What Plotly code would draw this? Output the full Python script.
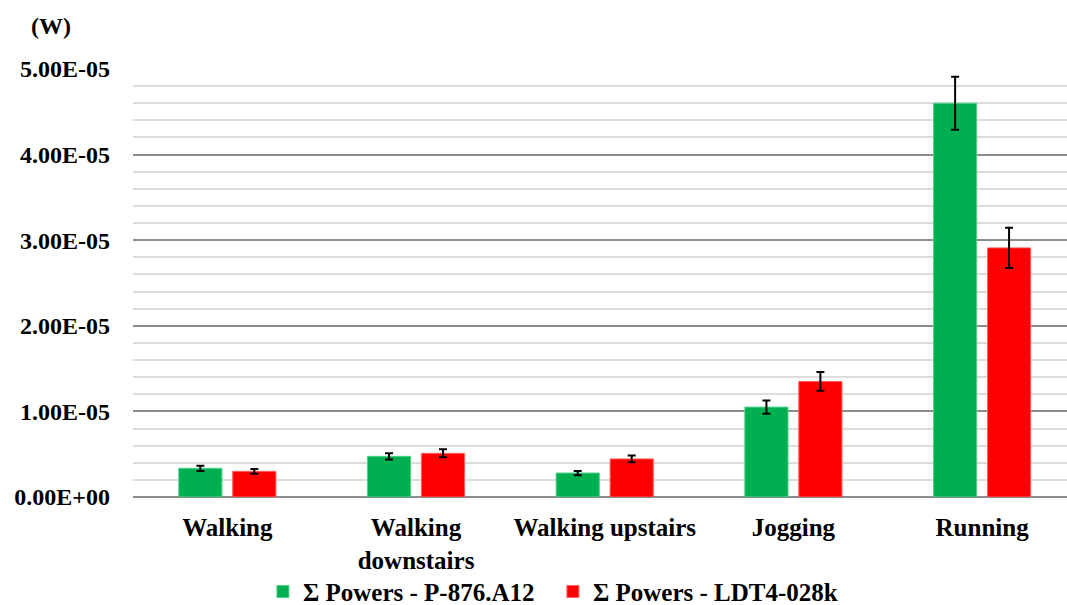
import plotly.graph_objects as go

# Activities on the x axis
activities = ["Walking", "Walking<br>downstairs", "Walking upstairs", "Jogging", "Running"]

# Summed power (W) for each transducer, with error-bar half widths
power_p876 = [3.35e-06, 4.75e-06, 2.8e-06, 1.05e-05, 4.6e-05]
err_p876 = [0.3e-06, 0.37e-06, 0.25e-06, 0.78e-06, 3.1e-06]
power_ldt4 = [3.0e-06, 5.1e-06, 4.45e-06, 1.35e-05, 2.91e-05]
err_ldt4 = [0.27e-06, 0.47e-06, 0.39e-06, 1.1e-06, 2.35e-06]

# Y axis tick values and their labels
y_tick_values = [0, 1e-05, 2e-05, 3e-05, 4e-05, 5e-05]
y_tick_labels = ["0.00E+00", "1.00E-05", "2.00E-05", "3.00E-05", "4.00E-05", "5.00E-05"]

FONT = "Liberation Serif"
GREEN = "#00B050"
RED = "#FF0000"

fig = go.Figure()
fig.add_trace(go.Bar(
    x=activities, y=power_p876, name="Σ Powers - P-876.A12",
    marker=dict(color=GREEN, line=dict(color="#4fd08a", width=1)),
    error_y=dict(type="data", array=err_p876, color="black", thickness=2, width=4),
))
fig.add_trace(go.Bar(
    x=activities, y=power_ldt4, name="Σ Powers - LDT4-028k",
    marker=dict(color=RED, line=dict(color="#ff6060", width=1)),
    error_y=dict(type="data", array=err_ldt4, color="black", thickness=2, width=4),
))

fig.update_layout(
    width=1067, height=605,
    margin=dict(l=133, r=0, t=69, b=108),
    paper_bgcolor="white", plot_bgcolor="white",
    barmode="group", bargap=0.428, bargroupgap=0.2,
    font=dict(family=FONT, size=24, color="black", weight="bold"),
    showlegend=True,
    legend=dict(
        orientation="h", xref="container", yref="container",
        x=0.2464, xanchor="left", y=0.022, yanchor="middle",
        font=dict(family=FONT, size=25, color="black", weight="bold"),
        itemwidth=30, entrywidth=245, entrywidthmode="pixels",
        traceorder="normal",
    ),
    annotations=[dict(
        text="(W)", xref="paper", yref="paper", x=-0.088, y=1.0,
        xanchor="center", yanchor="bottom", yshift=28, showarrow=False,
        font=dict(family=FONT, size=24, color="black", weight="bold"),
    )],
)

fig.update_xaxes(
    type="category", range=[-0.5, 4.45], automargin=False,
    showgrid=False, showline=False, zeroline=False, ticks="",
    tickfont=dict(family=FONT, size=25, color="black", weight="bold"),
    ticklabelstandoff=13,
)

fig.update_yaxes(
    range=[0, 5.0e-05], tickvals=y_tick_values, ticktext=y_tick_labels,
    automargin=False,
    showgrid=True, gridcolor="#8c8c8c", gridwidth=1.5,
    zeroline=True, zerolinecolor="#8c8c8c", zerolinewidth=1.5,
    minor=dict(dtick=2e-06, showgrid=True, gridcolor="#dcdcdc", gridwidth=1.5),
    showline=False, ticks="",
    tickfont=dict(family=FONT, size=24, color="black", weight="bold"),
    ticklabelstandoff=22,
)

fig.write_html("out.html")
